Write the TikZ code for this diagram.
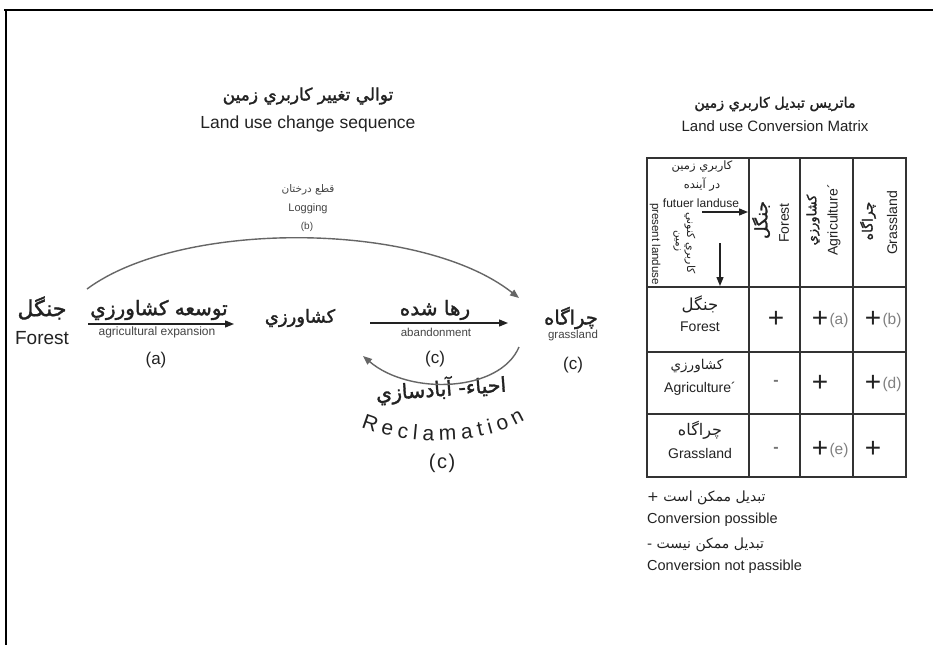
\documentclass[tikz,border=0pt]{standalone}
\usepackage{fontspec}
\setmainfont{Liberation Sans}
\newfontfamily\fa[Script=Arabic]{DejaVu Sans}
\newfontfamily\faheavy[Script=Arabic,FakeBold=1.6]{DejaVu Sans}
\TeXXeTstate=1
\usetikzlibrary{arrows.meta,decorations.text}
\newcommand{\FA}[1]{{\fa\beginR #1\endR}}
\newcommand{\FAB}[1]{{\faheavy\beginR #1\endR}}
\newcommand{\fs}[1]{\fontsize{#1}{#1}\selectfont}
\definecolor{ink}{HTML}{222222}
\definecolor{soft}{HTML}{444444}
\definecolor{arcgray}{HTML}{666666}
\definecolor{tabline}{HTML}{333333}
\begin{document}
\begin{tikzpicture}[x=1pt,y=-1pt,
  t/.style={inner sep=0pt, text=ink},
  ts/.style={inner sep=0pt, text=soft},
  tl/.style={inner sep=0pt, text=ink, anchor=west},
  arr/.style={-{Triangle[length=9pt,width=7pt]}, line width=1.3pt, draw=ink},
  curv/.style={-{Triangle[length=9pt,width=7pt]}, line width=1.4pt, draw=arcgray},
  grid/.style={line width=1.4pt, draw=tabline},
  cellp/.style={inner sep=0pt, text=ink, font=\fs{28}},
  celll/.style={inner sep=0pt, text=black!50, font=\fs{15.5}},
  celld/.style={inner sep=0pt, text=black!55, font=\bfseries\fs{16}}]
\fill[white] (0,0) rectangle (933,645);
\useasboundingbox (0,0) rectangle (933,645);
% frame
\draw[line width=2.5pt] (4,10) -- (933,10);
\draw[line width=1.8pt] (6,9) -- (6,645);

% ---------- left part: sequence ----------
\node[t, font=\fs{17}] (title1) at (308,96) {\FAB{توالي تغيير کاربري زمين}};
\node[t, font=\fs{17.5}] (title2) at (308,124) {Land use change sequence};

\node[ts, font=\fs{10.5}] (logfa) at (308,190) {\FA{قطع درختان}};
\node[ts, font=\fs{11}] (logen) at (308,209) {Logging};
\node[ts, font=\fs{10}] (logb) at (307,227) {(b)};

\node[t, font=\fs{22}] (forestfa) at (42,308) {\FAB{جنگل}};
\node[t, font=\fs{19}] (foresten) at (42,338) {Forest};

\node[t, font=\fs{20}] (expfa) at (159,310) {\FAB{توسعه کشاورزي}};
\node[ts, font=\fs{12}] (expen) at (157,332) {agricultural expansion};
\node[t, font=\fs{17}] (expa) at (156,360) {(a)};

\node[t, font=\fs{18}] (agri) at (300,318) {\FAB{کشاورزي}};

\node[t, font=\fs{20}] (abfa) at (435,310) {\FAB{رها شده}};
\node[ts, font=\fs{11.5}] (aben) at (436,332) {abandonment};
\node[t, font=\fs{17}] (abc) at (435,359) {(c)};

\node[t, font=\fs{19.5}] (grassfa) at (571,318) {\FAB{چراگاه}};
\node[ts, font=\fs{11.5}] (grassen) at (573,336) {grassland};
\node[t, font=\fs{17}] (grassc) at (573,365) {(c)};

\node[t, font=\fs{20.5}, rotate=4] (reclfa) at (441,389) {\FAB{احياء- آبادسازي}};
\node[t, font=\fs{20}] (reclc) at (442,463) {(\kern1.5pt c\kern1.5pt)};

% connectors
\coordinate (logS) at (87,289);
\coordinate (logE) at (519,298);
\draw[curv] (logS) .. controls (180,220) and (420,220) .. (logE);

\coordinate (expS) at (88,324);
\coordinate (expE) at (234,324);
\draw[arr] (expS) -- (expE);

\coordinate (abS) at (370,323);
\coordinate (abE) at (508,323);
\draw[arr] (abS) -- (abE);

\coordinate (reS) at (519,347);
\coordinate (reE) at (363,356);
\draw[curv] (reS) .. controls (500,392) and (410,396) .. (reE);

\path[decorate, decoration={text along path,
   text={|\fs{21}\color{ink}|Reclamation}, text align={fit to path}}]
   (361,427) .. controls (405,445) and (478,447) .. (525,420);

% ---------- right part: matrix ----------
\node[t, font=\fs{14.3}] (mtitle1) at (775,104) {\FAB{ماتريس تبديل کاربري زمين}};
\node[t, font=\fs{15}] (mtitle2) at (775,126) {Land use Conversion Matrix};

% grid
\draw[grid] (647,158) rectangle (906,477);
\draw[grid] (749,158) -- (749,477);
\draw[grid] (800,158) -- (800,477);
\draw[grid] (853,158) -- (853,477);
\draw[grid] (647,287) -- (906,287);
\draw[grid] (647,352) -- (906,352);
\draw[grid] (647,414) -- (906,414);

% header cell
\node[t, font=\fs{11.5}] (hfa1) at (702,167) {\FA{کاربري زمين}};
\node[t, font=\fs{11.5}] (hfa2) at (702,185) {\FA{در آينده}};
\node[t, font=\fs{12}] (hen) at (701,203) {futuer landuse};
\coordinate (hrS) at (702,212);
\coordinate (hrE) at (748,212);
\draw[arr] (hrS) -- (hrE);
\coordinate (hdS) at (720,243);
\coordinate (hdE) at (720,286);
\draw[arr] (hdS) -- (hdE);
\node[t, font=\fs{11.5}, rotate=-90] (hpen) at (655,244) {present landuse};
\node[t, font=\fs{11}, rotate=-90] (hpfa1) at (690,243) {\FA{کاربري کنوني}};
\node[t, font=\fs{10.5}, rotate=-90] (hpfa2) at (677,241) {\FA{زمين}};

% column headers
\node[t, font=\fs{17}, rotate=90] (c1fa) at (761,220) {\FAB{جنگل}};
\node[t, font=\fs{14}, rotate=90] (c1en) at (784,223) {Forest};
\node[t, font=\fs{13}, rotate=90] (c2fa) at (813,220) {\FAB{کشاورزي}};
\node[t, font=\fs{14}, rotate=90] (c2en) at (834,220) {Agriculture´};
\node[t, font=\fs{14}, rotate=90] (c3fa) at (868,221) {\FAB{چراگاه}};
\node[t, font=\fs{14}, rotate=90] (c3en) at (892,223) {Grassland};

% row headers
\node[t, font=\fs{16.5}] (r1fa) at (700,304) {\FA{جنگل}};
\node[t, font=\fs{14}] (r1en) at (700,327) {Forest};
\node[t, font=\fs{13.5}] (r2fa) at (697,366) {\FA{کشاورزي}};
\node[t, font=\fs{14}] (r2en) at (700,389) {Agriculture´};
\node[t, font=\fs{16}] (r3fa) at (700,430) {\FA{چراگاه}};
\node[t, font=\fs{14}] (r3en) at (700,453) {Grassland};

% cells row 1
\node[cellp] (p11) at (776,319) {+};
\node[cellp] (p12) at (820,319) {+};
\node[celll] (l12) at (839,320) {(a)};
\node[cellp] (p13) at (873,319) {+};
\node[celll] (l13) at (892,320) {(b)};
% row 2
\node[celld] (m21) at (776,383) {-};
\node[cellp] (p22) at (820,383) {+};
\node[cellp] (p23) at (873,383) {+};
\node[celll] (l23) at (892,384) {(d)};
% row 3
\node[celld] (m31) at (776,450) {-};
\node[cellp] (p32) at (820,449) {+};
\node[celll] (l32) at (839,450) {(e)};
\node[cellp] (p33) at (873,449) {+};

% legend
\node[tl, font=\fs{14}] (leg1) at (647,498) {\FA{تبديل ممکن است +}};
\node[tl, font=\fs{14.5}] (leg2) at (647,520) {Conversion possible};
\node[tl, font=\fs{14}] (leg3) at (647,545) {\FA{تبديل ممکن نيست -}};
\node[tl, font=\fs{14.5}] (leg4) at (647,567) {Conversion not passible};
\end{tikzpicture}
\end{document}
